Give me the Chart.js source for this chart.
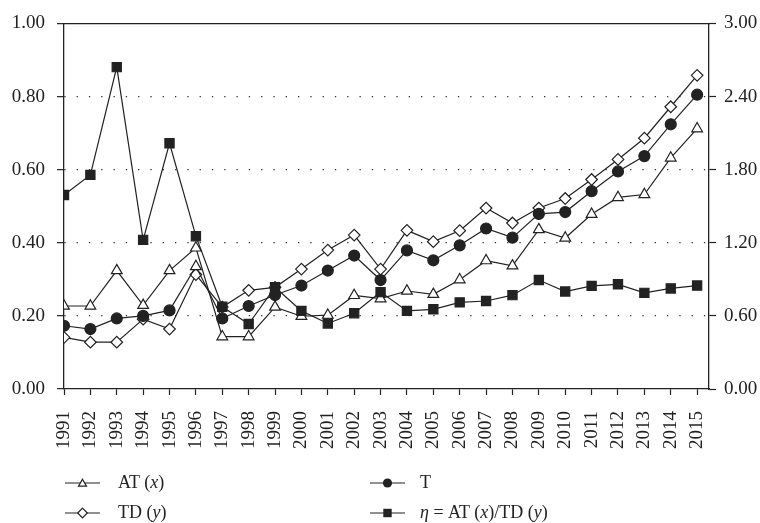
<!DOCTYPE html>
<html>
<head>
<meta charset="utf-8">
<script src="https://cdn.jsdelivr.net/npm/chart.js@4/dist/chart.umd.min.js"></script>
<style>
html,body{margin:0;padding:0;background:#fff;}
#wrap{position:relative;width:760px;height:523px;overflow:hidden;background:#fff;}
#c{position:absolute;left:0;top:0;}
.lgt{position:absolute;font-family:"Liberation Serif","Times New Roman",serif;font-size:18px;color:#222;line-height:20px;white-space:nowrap;}
.lgm{position:absolute;}
</style>
</head>
<body>
<div id="wrap">
<canvas id="c" width="760" height="523"></canvas>
<div id="legend"></div>
</div>
<script>
// ---- data ----
const years = [1991,1992,1993,1994,1995,1996,1997,1998,1999,2000,2001,2002,2003,2004,2005,2006,2007,2008,2009,2010,2011,2012,2013,2014,2015];
const atValues  = [0.227,0.227,0.324,0.229,0.324,0.386,0.143,0.143,0.224,0.199,0.202,0.256,0.247,0.268,0.259,0.299,0.351,0.337,0.436,0.413,0.478,0.524,0.532,0.632,0.712];
const tdValues  = [0.141,0.128,0.128,0.191,0.164,0.313,0.224,0.270,0.278,0.328,0.380,0.421,0.328,0.434,0.403,0.433,0.495,0.454,0.495,0.521,0.573,0.628,0.686,0.772,0.858];
const tValues   = [0.173,0.164,0.193,0.200,0.215,0.335,0.193,0.227,0.257,0.283,0.324,0.365,0.298,0.379,0.352,0.393,0.439,0.414,0.479,0.484,0.541,0.595,0.637,0.724,0.805];
const etaValues = [1.592,1.757,2.641,1.224,2.016,1.254,0.675,0.533,0.835,0.641,0.538,0.622,0.795,0.641,0.654,0.711,0.722,0.770,0.894,0.800,0.846,0.859,0.789,0.825,0.849];
const leftTicks  = [0, 0.2, 0.4, 0.6, 0.8, 1.0];
const rightTicks = [0, 0.6, 1.2, 1.8, 2.4, 3.0];
const legendLabels = ['AT (<i>x</i>)', 'TD (<i>y</i>)', 'T', '<i>η</i> = AT (<i>x</i>)/TD (<i>y</i>)'];
// in the source figure the T marker for 1996 is printed as an open triangle
const tOddMarkerYear = 1996;

// ---- styles ----
const INK = '#222';
const FONT = '"Liberation Serif","Times New Roman",serif';
const XMAX = 2015.45;

function pts(vals){ return years.map((y,i)=>({x:y, y:vals[i]})); }
function lineDs(label, vals, axis, style, fill, radius){
  return {
    label, data: pts(vals), yAxisID: axis, xAxisID: 'x',
    borderColor: INK, borderWidth: 1.2, tension: 0, fill: false,
    pointStyle: style, pointRadius: radius, pointHoverRadius: radius,
    pointBackgroundColor: fill, pointBorderColor: INK, pointBorderWidth: 1.2
  };
}

const tDs = lineDs('T', tValues, 'y', 'circle', INK, 5.5);
tDs.legendStyle = 'circle';
tDs.pointStyle = ctx => (years[ctx.dataIndex] === tOddMarkerYear ? 'triangle' : 'circle');
tDs.pointBackgroundColor = ctx => (years[ctx.dataIndex] === tOddMarkerYear ? '#fff' : INK);
tDs.pointRadius = ctx => (years[ctx.dataIndex] === tOddMarkerYear ? 6.2 : 5.5);

const datasets = [
  lineDs('eta', etaValues, 'y2', 'rect', INK, 6.5),
  tDs,
  lineDs('TD', tdValues, 'y', 'rectRot', '#fff', 5.8),
  lineDs('AT', atValues, 'y', 'triangle', '#fff', 6.2)
];

const tickFont = {family: FONT, size: 19};

new Chart(document.getElementById('c'), {
  type: 'line',
  data: { datasets },
  options: {
    responsive: false,
    animation: false,
    devicePixelRatio: 1,
    layout: { padding: { top: 19, left: 0, right: 0, bottom: 68 } },
    plugins: { legend: { display: false }, tooltip: { enabled: false } },
    scales: {
      x: {
        type: 'linear', position: 'bottom', min: 1991, max: XMAX,
        afterBuildTicks(s){ s.ticks = years.map(v => ({value: v})); },
        ticks: { autoSkip: false, minRotation: 90, maxRotation: 90, padding: 16,
                 font: tickFont, color: INK, callback: v => String(v) },
        grid: { drawOnChartArea: false, drawTicks: true, tickLength: 6, tickColor: INK, tickWidth: 1.2 },
        border: { display: true, color: INK, width: 1.3 },
        afterFit(s){ s.height = 66; }
      },
      xTop: {
        type: 'linear', position: 'top', min: 1991, max: XMAX,
        ticks: { display: false },
        grid: { drawOnChartArea: false, drawTicks: false },
        border: { display: true, color: INK, width: 1.3 },
        afterFit(s){ s.height = 0; }
      },
      y: {
        position: 'left', min: 0, max: 1,
        afterBuildTicks(s){ s.ticks = leftTicks.map(v => ({value: v})); },
        ticks: { padding: 12, font: tickFont, color: INK, callback: v => Number(v).toFixed(2) },
        grid: {
          color: ctx => (ctx.tick && ctx.tick.value > 0.001 && ctx.tick.value < 0.999) ? '#333' : 'rgba(0,0,0,0)',
          lineWidth: 1.3, drawTicks: true, tickLength: 7, tickColor: INK, tickWidth: 1.2
        },
        border: { display: true, color: INK, width: 1.3, dash: [1.3, 11] },
        afterFit(s){ s.width = 64; }
      },
      y2: {
        position: 'right', min: 0, max: 3,
        afterBuildTicks(s){ s.ticks = rightTicks.map(v => ({value: v})); },
        ticks: { padding: 8, font: tickFont, color: INK, callback: v => Number(v).toFixed(2) },
        grid: { drawOnChartArea: false, drawTicks: true, tickLength: 7, tickColor: INK, tickWidth: 1.2 },
        border: { display: true, color: INK, width: 1.3 },
        afterFit(s){ s.width = 51; }
      }
    }
  }
});

// ---- legend (HTML, 2x2 grid) ----
const legendSlots = [
  {ds: 'AT',  lineX: 65,  textX: 118, y: 483},
  {ds: 'TD',  lineX: 65,  textX: 118, y: 513},
  {ds: 'T',   lineX: 370, textX: 420, y: 483},
  {ds: 'eta', lineX: 370, textX: 420, y: 513}
];
function markerSvg(kind){
  const c = 17.5, m = 7;
  let shape = '';
  if (kind === 'triangle') {
    const r = 4.6;
    const p = [0,1,2].map(k => { const a = -Math.PI/2 + k*2*Math.PI/3; return (c + r*Math.cos(a)).toFixed(2)+','+(m + 0.8 + r*Math.sin(a)).toFixed(2); }).join(' ');
    shape = `<polygon points="${p}" fill="#fff" stroke="${INK}" stroke-width="1.2"/>`;
  } else if (kind === 'rectRot') {
    const r = 4.8;
    shape = `<polygon points="${c},${m-r} ${c+r},${m} ${c},${m+r} ${c-r},${m}" fill="#fff" stroke="${INK}" stroke-width="1.2"/>`;
  } else if (kind === 'circle') {
    shape = `<circle cx="${c}" cy="${m}" r="4.6" fill="${INK}"/>`;
  } else {
    shape = `<rect x="${c-4.2}" y="${m-4.2}" width="8.4" height="8.4" fill="${INK}"/>`;
  }
  return `<svg width="36" height="14" viewBox="0 0 36 14"><line x1="0" y1="${m}" x2="35" y2="${m}" stroke="${INK}" stroke-width="1.2"/>${shape}</svg>`;
}
const legendEl = document.getElementById('legend');
const labelFor = {AT: legendLabels[0], TD: legendLabels[1], T: legendLabels[2], eta: legendLabels[3]};
legendSlots.forEach(s => {
  const ds = datasets.find(d => d.label === s.ds);
  const kind = ds.legendStyle || ds.pointStyle;
  const mk = document.createElement('div');
  mk.className = 'lgm';
  mk.style.left = s.lineX + 'px';
  mk.style.top = (s.y - 7) + 'px';
  mk.innerHTML = markerSvg(kind);
  legendEl.appendChild(mk);
  const tx = document.createElement('div');
  tx.className = 'lgt';
  tx.style.left = s.textX + 'px';
  tx.style.top = (s.y - 11) + 'px';
  tx.innerHTML = labelFor[s.ds];
  legendEl.appendChild(tx);
});
</script>
</body>
</html>
